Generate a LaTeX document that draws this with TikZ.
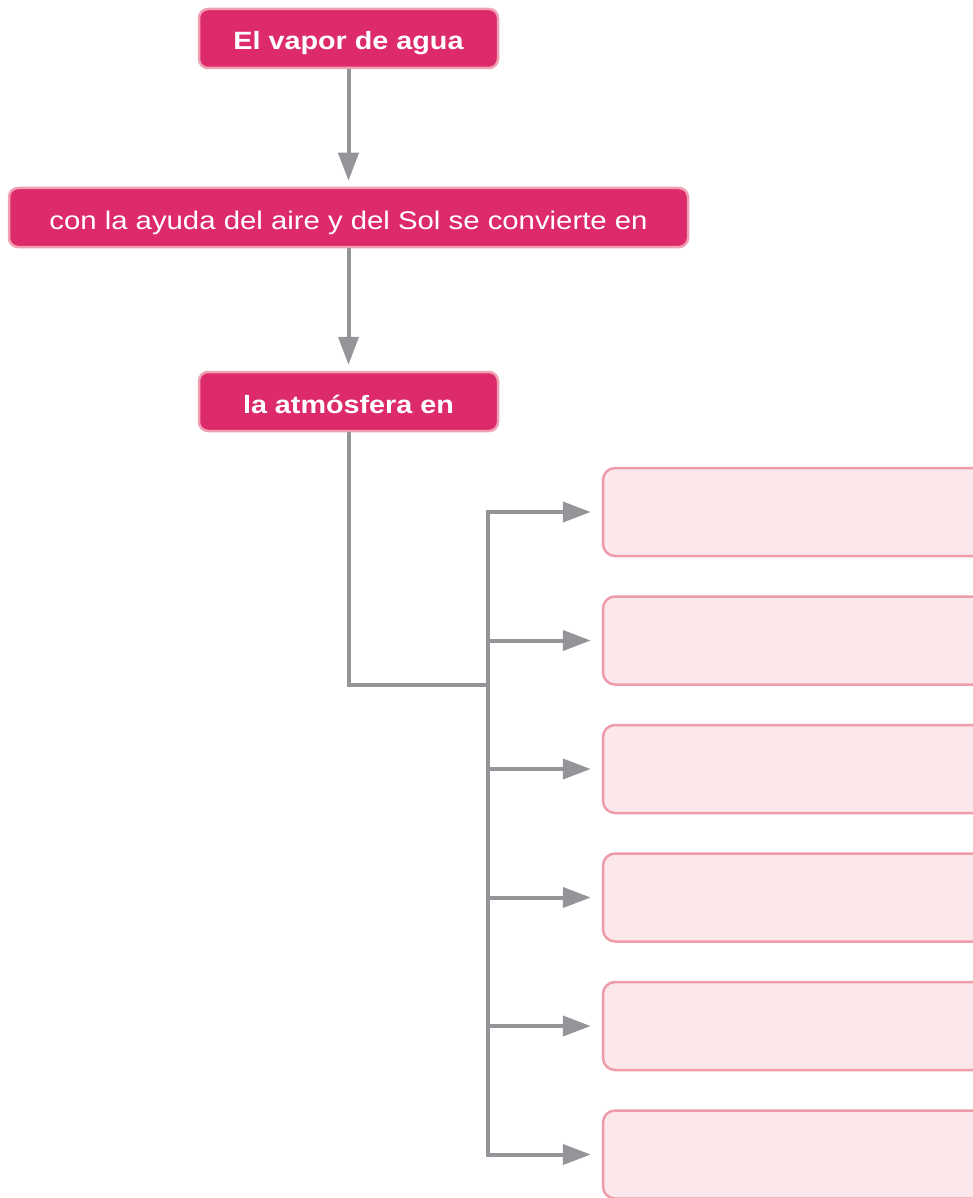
\documentclass[tikz,border=0pt]{standalone}
\usepackage{fontspec}
\setmainfont{Liberation Sans}
\newfontfamily\boxfont[FakeStretch=1.15]{Liberation Sans}
\usetikzlibrary{arrows.meta}
\definecolor{magentabox}{HTML}{DC2A6B}
\definecolor{magentaedge}{HTML}{EFA0B2}
\definecolor{pinkfill}{HTML}{FCE8EB}
\definecolor{pinkedge}{HTML}{EE9BAA}
\definecolor{connector}{HTML}{939598}
\tikzset{
  headbox/.style={draw=magentaedge, line width=2.5pt, fill=magentabox, rounded corners=9pt,
    minimum height=59pt, inner sep=0pt, text height=23pt, text depth=0pt,
    text=white, font=\boxfont\fontsize{25.5}{30}\selectfont},
  emptybox/.style={draw=pinkedge, line width=2.5pt, fill=pinkfill, rounded corners=12pt,
    minimum width=382pt, minimum height=88pt, inner sep=0pt},
  conn/.style={draw=connector, line width=4pt},
  arr/.style={conn, -{Triangle[length=28pt,width=20pt]}}
}
\begin{document}
\begin{tikzpicture}[x=1pt,y=-1pt]
\useasboundingbox (0,0) rectangle (973,1198);
\clip (0,0) rectangle (973,1198);
\node[headbox, minimum width=299pt, font=\boxfont\bfseries\fontsize{25}{30}\selectfont] (b1) at (348.5,38.5) {El vapor de agua};
\node[headbox, minimum width=679pt, text height=24.5pt] (b2) at (348.5,217.5) {con la ayuda del aire y del Sol se convierte en};
\node[headbox, minimum width=299pt, font=\boxfont\bfseries\fontsize{25}{30}\selectfont] (b3) at (348.5,401.5) {la atmósfera en};
\foreach \i/\y in {1/512,2/640.5,3/769,4/897.5,5/1026,6/1154.5}{
  \node[emptybox] (p\i) at (794,\y) {};
  \coordinate (s\i) at (488,\y);
}
\coordinate (j) at (488,685);
\draw[arr, shorten >=6pt] (b1.south) -- (b2.north);
\draw[arr, shorten >=6pt] (b2.south) -- (b3.north);
\draw[conn] (b3.south) |- (j);
\draw[conn, line cap=rect] (s1) -- (s6);
\foreach \i in {1,...,6}{
  \draw[arr, shorten >=11pt] (s\i) -- (p\i.west);
}
\end{tikzpicture}
\end{document}
